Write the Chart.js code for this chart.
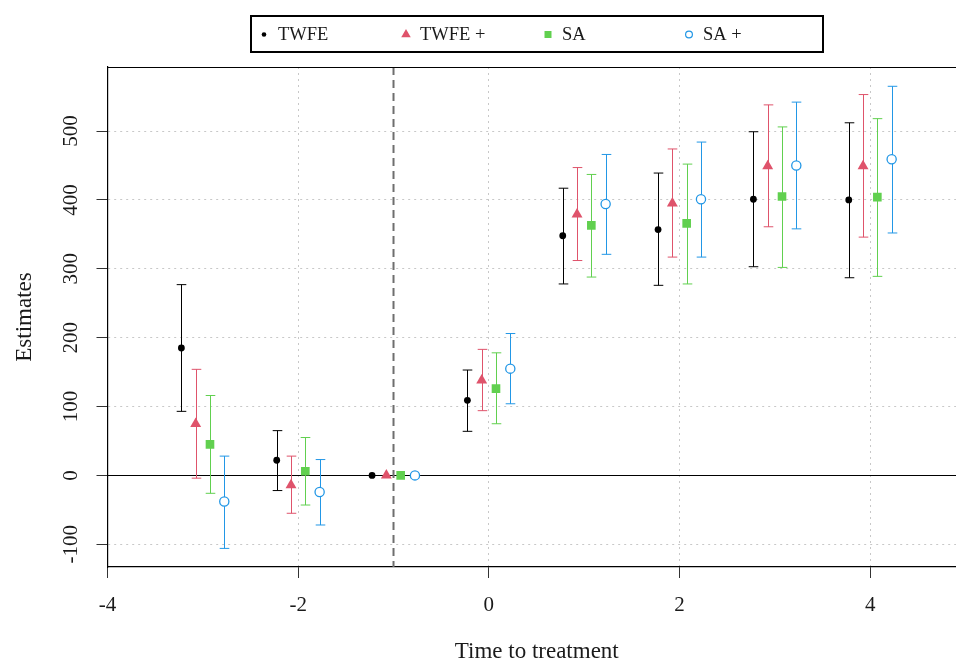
<!DOCTYPE html>
<html lang="en">
<head>
<meta charset="UTF-8">
<title>Event study estimates</title>
<script src="https://cdn.jsdelivr.net/npm/chart.js"></script>
<style>
  html, body { margin: 0; padding: 0; background: #fff; }
  #wrap { width: 956px; height: 663px; position: relative; }
</style>
</head>
<body>
<div id="wrap"><canvas id="esChart"></canvas></div>
<script>
// periods relative to treatment, -1 is the reference period
const periods = [-3, -2, -1, 0, 1, 2, 3, 4];
const seriesNames = ['TWFE', 'TWFE +', 'SA', 'SA +'];

const twfeEst = [185, 22, 0, 109, 348, 357, 401, 400];
const twfeLo  = [93, -22, 0, 64, 278, 276, 303, 287];
const twfeHi  = [277, 65, 0, 153, 417, 439, 499, 512];

const twfePlusEst = [75, -14, 0, 138, 379, 395, 449, 449];
const twfePlusLo  = [-4, -55, 0, 94, 312, 317, 361, 346];
const twfePlusHi  = [154, 28, 0, 183, 447, 474, 538, 553];

const saEst = [45, 6, 0, 126, 363, 366, 405, 404];
const saLo  = [-26, -43, 0, 75, 288, 278, 302, 289];
const saHi  = [116, 55, 0, 178, 437, 452, 506, 518];

const saPlusEst = [-38, -24, 0, 155, 394, 401, 450, 459];
const saPlusLo  = [-106, -72, 0, 104, 321, 317, 358, 352];
const saPlusHi  = [28, 23, 0, 206, 466, 484, 542, 565];

const xTicks = [-4, -2, 0, 2, 4];
const yTicks = [-100, 0, 100, 200, 300, 400, 500];
const refPeriod = -1;

// horizontal dodge of each series around its period
const dodge = [-0.225, -0.075, 0.075, 0.225];
const colors = ['#000000', '#DF536B', '#61D04F', '#2297E6'];
const SERIF = '"Liberation Serif", "DejaVu Serif", serif';

const series = [
  { est: twfeEst, lo: twfeLo, hi: twfeHi, style: 'circle', r: 3.4, fill: colors[0], bw: 0 },
  { est: twfePlusEst, lo: twfePlusLo, hi: twfePlusHi, style: 'triangle', r: 6.3, fill: colors[1], bw: 0 },
  { est: saEst, lo: saLo, hi: saHi, style: 'rect', r: 6.1, fill: colors[2], bw: 0 },
  { est: saPlusEst, lo: saPlusLo, hi: saPlusHi, style: 'circle', r: 4.6, fill: '#ffffff', bw: 1.3 }
];

const datasets = series.map((s, k) => ({
  label: seriesNames[k],
  data: periods.map((p, i) => ({ x: p + dodge[k], y: s.est[i], lo: s.lo[i], hi: s.hi[i] })),
  pointStyle: s.style,
  pointRadius: s.r,
  pointHoverRadius: s.r,
  pointBackgroundColor: s.fill,
  pointBorderColor: colors[k],
  pointBorderWidth: s.bw,
  showLine: false
}));

function marker(ctx, style, x, y, r, color, hollow) {
  ctx.save();
  ctx.beginPath();
  if (style === 'circle') {
    ctx.arc(x, y, r, 0, Math.PI * 2);
  } else if (style === 'triangle') {
    ctx.moveTo(x, y - r);
    ctx.lineTo(x + r * Math.sqrt(3) / 2, y + r / 2);
    ctx.lineTo(x - r * Math.sqrt(3) / 2, y + r / 2);
    ctx.closePath();
  } else {
    ctx.rect(x - r, y - r, 2 * r, 2 * r);
  }
  if (hollow) {
    ctx.strokeStyle = color;
    ctx.lineWidth = 1.2;
    ctx.stroke();
  } else {
    ctx.fillStyle = color;
    ctx.fill();
  }
  ctx.restore();
}

// confidence intervals, zero line and reference-period line under the points
const intervals = {
  id: 'intervals',
  beforeDatasetsDraw(chart) {
    const { ctx, chartArea: a, scales: { x, y } } = chart;
    ctx.save();
    ctx.beginPath();
    ctx.rect(a.left, a.top, a.right - a.left, a.bottom - a.top);
    ctx.clip();

    const y0 = Math.round(y.getPixelForValue(0)) + 0.5;
    ctx.strokeStyle = '#000';
    ctx.lineWidth = 1.2;
    ctx.beginPath();
    ctx.moveTo(a.left, y0);
    ctx.lineTo(a.right, y0);
    ctx.stroke();

    const xr = x.getPixelForValue(refPeriod);
    ctx.strokeStyle = '#6e6e6e';
    ctx.lineWidth = 2;
    ctx.setLineDash([8, 5]);
    ctx.beginPath();
    ctx.moveTo(xr, a.top);
    ctx.lineTo(xr, a.bottom);
    ctx.stroke();
    ctx.setLineDash([]);

    chart.data.datasets.forEach((ds, k) => {
      ctx.strokeStyle = colors[k];
      ctx.lineWidth = 1;
      ds.data.forEach(d => {
        if (d.lo === d.hi) return;
        const px = Math.round(x.getPixelForValue(d.x)) + 0.5;
        const top = y.getPixelForValue(d.hi);
        const bot = y.getPixelForValue(d.lo);
        ctx.beginPath();
        ctx.moveTo(px, top);
        ctx.lineTo(px, bot);
        ctx.moveTo(px - 4.8, top);
        ctx.lineTo(px + 4.8, top);
        ctx.moveTo(px - 4.8, bot);
        ctx.lineTo(px + 4.8, bot);
        ctx.stroke();
      });
    });
    ctx.restore();
  },
  afterDraw(chart) {
    const { ctx, chartArea: a, scales: { x, y } } = chart;
    ctx.save();
    // top frame line
    ctx.strokeStyle = '#000';
    ctx.lineWidth = 1.2;
    ctx.beginPath();
    ctx.moveTo(a.left, a.top + 0.5);
    ctx.lineTo(a.right, a.top + 0.5);
    ctx.stroke();

    ctx.fillStyle = '#1a1a1a';
    ctx.font = '21px ' + SERIF;
    ctx.textAlign = 'center';
    ctx.textBaseline = 'alphabetic';
    x.ticks.forEach(t => {
      ctx.fillText(String(t.value), x.getPixelForValue(t.value), 611);
    });
    y.ticks.forEach(t => {
      ctx.save();
      ctx.translate(77, y.getPixelForValue(t.value));
      ctx.rotate(-Math.PI / 2);
      ctx.fillText(String(t.value), 0, 0);
      ctx.restore();
    });

    ctx.font = '23px ' + SERIF;
    ctx.fillText('Time to treatment', (a.left + a.right) / 2 + 5, 658);
    ctx.save();
    ctx.translate(31, (a.top + a.bottom) / 2);
    ctx.rotate(-Math.PI / 2);
    ctx.fillText('Estimates', 0, 0);
    ctx.restore();

    // legend
    ctx.strokeStyle = '#000';
    ctx.lineWidth = 2;
    ctx.strokeRect(251, 16, 572, 36);
    const mx = [264, 406, 548, 689];
    const msize = [2.3, 5.5, 3.5, 3.4];
    ctx.font = '18.5px ' + SERIF;
    ctx.textAlign = 'left';
    seriesNames.forEach((name, k) => {
      marker(ctx, series[k].style, mx[k], 34.5, msize[k], colors[k], k === 3);
      ctx.fillStyle = '#1a1a1a';
      ctx.fillText(name, mx[k] + 14, 40);
    });
    ctx.restore();
  }
};

new Chart(document.getElementById('esChart'), {
  type: 'scatter',
  data: { datasets },
  options: {
    responsive: true,
    maintainAspectRatio: false,
    animation: false,
    devicePixelRatio: 1,
    layout: { autoPadding: false, padding: { top: 67, right: 0, bottom: 0, left: 0 } },
    plugins: { legend: { display: false }, tooltip: { enabled: false } },
    scales: {
      x: {
        type: 'linear',
        min: -4,
        max: 4.9,
        afterBuildTicks: s => { s.ticks = xTicks.map(v => ({ value: v })); },
        afterFit: s => { s.height = 96; },
        ticks: { display: false },
        grid: { color: '#c8c8c8', lineWidth: 1, drawTicks: true, tickLength: 11, tickColor: '#333', tickWidth: 1 },
        border: { display: true, color: '#000', width: 1.2, dash: [2, 4] }
      },
      y: {
        type: 'linear',
        min: -133,
        max: 593,
        afterBuildTicks: s => { s.ticks = yTicks.map(v => ({ value: v })); },
        afterFit: s => { s.width = 107.5; },
        ticks: { display: false },
        grid: {
          color: c => (c.tick && c.tick.value === 0 ? 'rgba(0,0,0,0)' : '#c8c8c8'),
          lineWidth: 1, drawTicks: true, tickLength: 11, tickColor: '#333', tickWidth: 1
        },
        border: { display: true, color: '#000', width: 1.2, dash: [2, 4] }
      }
    }
  },
  plugins: [intervals]
});
</script>
</body>
</html>
